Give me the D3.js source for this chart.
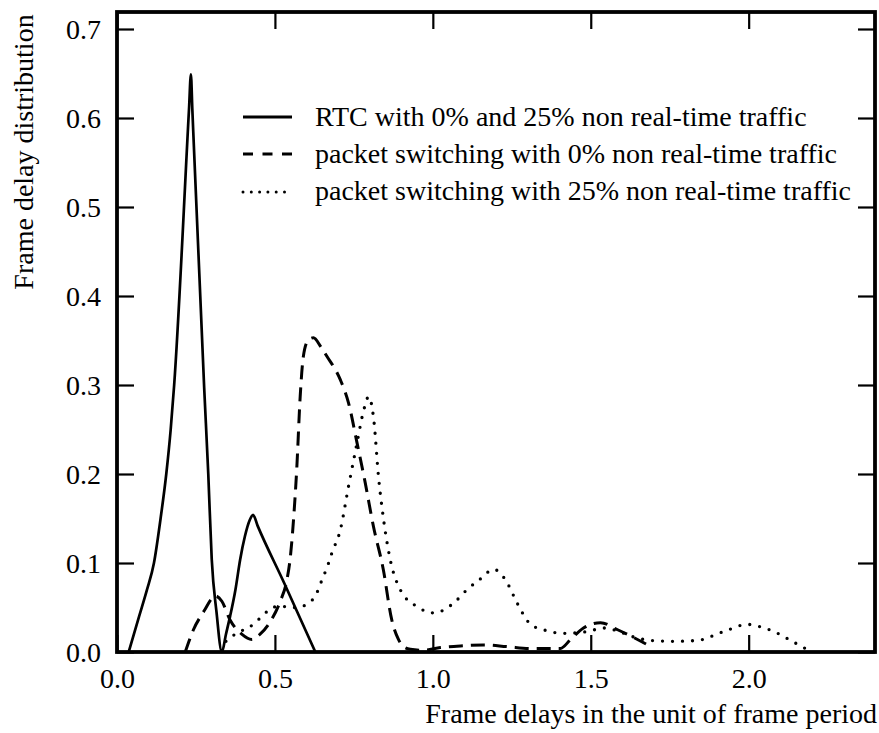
<!DOCTYPE html>
<html>
<head>
<meta charset="utf-8">
<script src="https://cdn.jsdelivr.net/npm/d3@7"></script>
<style>
  html, body { margin: 0; padding: 0; background: #fff; }
  svg { display: block; }
  svg text { font-family: "Liberation Serif", "Times New Roman", "DejaVu Serif", serif !important; fill: #000; }
</style>
</head>
<body>
<svg id="chart" width="879" height="733"></svg>
<script>
// ---- data ----
const xTicks = [0.0, 0.5, 1.0, 1.5, 2.0];
const yTicks = [0.0, 0.1, 0.2, 0.3, 0.4, 0.5, 0.6, 0.7];
const xTitle = "Frame delays in the unit of frame period";
const yTitle = "Frame delay distribution";
const seriesNames = [
  "RTC with 0% and 25% non real-time traffic",
  "packet switching with 0% non real-time traffic",
  "packet switching with 25% non real-time traffic"
];

const rtcX = [0.037, 0.07, 0.095, 0.117, 0.138, 0.156, 0.17, 0.181, 0.228, 0.234, 0.2385, 0.276, 0.289, 0.300, 0.315, 0.332, 0.345, 0.358, 0.375, 0.39, 0.405, 0.42, 0.431, 0.445, 0.53, 0.628];
const rtcY = [0.0, 0.04, 0.07, 0.1, 0.15, 0.2, 0.25, 0.3, 0.61, 0.649, 0.61, 0.297, 0.2, 0.104, 0.045, 0.0, 0.02, 0.04, 0.07, 0.104, 0.13, 0.148, 0.154, 0.142, 0.077, 0.0];

const ps0X = [0.216, 0.242, 0.279, 0.30, 0.311, 0.332, 0.358, 0.395, 0.427, 0.453, 0.485, 0.517, 0.538, 0.548, 0.559, 0.569, 0.58, 0.59, 0.605, 0.622, 0.645, 0.665, 0.707, 0.733, 0.76, 0.786, 0.812, 0.843, 0.87, 0.89, 0.907, 0.929, 0.97, 1.024, 1.097, 1.16, 1.236, 1.31, 1.404, 1.436, 1.477, 1.531, 1.585, 1.675];
const ps0Y = [0.0, 0.025, 0.048, 0.06, 0.063, 0.057, 0.036, 0.02, 0.014, 0.02, 0.034, 0.057, 0.081, 0.104, 0.149, 0.205, 0.287, 0.332, 0.35, 0.353, 0.343, 0.332, 0.306, 0.28, 0.235, 0.19, 0.141, 0.093, 0.036, 0.015, 0.006, 0.003, 0.002, 0.005, 0.007, 0.008, 0.006, 0.004, 0.004, 0.014, 0.027, 0.033, 0.025, 0.009];

const ps25X = [0.345, 0.374, 0.395, 0.416, 0.437, 0.459, 0.48, 0.506, 0.538, 0.564, 0.585, 0.606, 0.628, 0.649, 0.67, 0.68, 0.707, 0.733, 0.76, 0.78, 0.797, 0.813, 0.828, 0.844, 0.865, 0.897, 0.95, 1.003, 1.066, 1.108, 1.15, 1.193, 1.215, 1.235, 1.267, 1.31, 1.36, 1.414, 1.489, 1.541, 1.59, 1.626, 1.69, 1.76, 1.837, 1.921, 1.996, 2.04, 2.08, 2.143, 2.2];
const ps25Y = [0.012, 0.02, 0.024, 0.027, 0.033, 0.04, 0.047, 0.051, 0.051, 0.05, 0.051, 0.055, 0.063, 0.081, 0.1, 0.111, 0.137, 0.186, 0.235, 0.27, 0.287, 0.261, 0.197, 0.149, 0.104, 0.07, 0.051, 0.044, 0.055, 0.07, 0.082, 0.093, 0.088, 0.078, 0.055, 0.031, 0.024, 0.021, 0.023, 0.027, 0.023, 0.018, 0.013, 0.012, 0.013, 0.023, 0.031, 0.028, 0.023, 0.011, 0.0];

// ---- layout ----
const FONT = '"Liberation Serif", "Times New Roman", serif';
const svg = d3.select("#chart");
const mLeft = 117, mRight = 875, mTop = 12, mBottom = 652;
const x = d3.scaleLinear().domain([0, 2.4]).range([mLeft, mRight]);
const y = d3.scaleLinear().domain([0, 0.7]).range([mBottom, 29]);
const fmt = d3.format(".1f");
const tickLen = 17;

const series = [
  { name: seriesNames[0], xs: rtcX, ys: rtcY, width: 2.7, dash: null, cap: "butt", legDash: null },
  { name: seriesNames[1], xs: ps0X, ys: ps0Y, width: 3, dash: "14,8", cap: "butt", legDash: "10,9.5" },
  { name: seriesNames[2], xs: ps25X, ys: ps25Y, width: 3.3, dash: "0,10", cap: "round", legDash: "0,8.3" }
];

const line = d3.line().x(d => x(d[0])).y(d => y(d[1])).curve(d3.curveMonotoneX);

const plot = svg.append("g");
series.forEach(s => {
  const pts = s.xs.map((v, i) => [v, s.ys[i]]);
  plot.append("path")
    .attr("d", line(pts))
    .attr("fill", "none")
    .attr("stroke", "#000")
    .attr("stroke-width", s.width)
    .attr("stroke-linecap", s.cap)
    .attr("stroke-linejoin", "round")
    .attr("stroke-dasharray", s.dash);
});

// ---- axes (ticks inward on all sides) ----
const axB = d3.axisBottom(x).tickValues(xTicks).tickSizeInner(-tickLen).tickSizeOuter(0).tickFormat(fmt).tickPadding(0);
const axT = d3.axisTop(x).tickValues(xTicks).tickSizeInner(-tickLen).tickSizeOuter(0).tickFormat("");
const axL = d3.axisLeft(y).tickValues(yTicks).tickSizeInner(-tickLen).tickSizeOuter(0).tickFormat(fmt);
const axR = d3.axisRight(y).tickValues(yTicks).tickSizeInner(-tickLen).tickSizeOuter(0).tickFormat("");

function styleAxis(g) {
  g.attr("font-family", FONT).attr("font-size", 28);
  g.select(".domain").remove();
  g.selectAll(".tick line").attr("stroke", "#000").attr("stroke-width", 2.2);
  g.selectAll(".tick text").attr("font-family", FONT).style("font-size", "28px").attr("fill", "#000");
}

const gB = svg.append("g").attr("transform", `translate(0,${mBottom})`).call(axB).call(styleAxis);
gB.selectAll(".tick text").attr("y", 36).attr("dy", null);
const gT = svg.append("g").attr("transform", `translate(0,${mTop})`).call(axT).call(styleAxis);
const gL = svg.append("g").attr("transform", `translate(${mLeft},0)`).call(axL).call(styleAxis);
gL.selectAll(".tick text").attr("x", -16).attr("dy", "0.34em");
const gR = svg.append("g").attr("transform", `translate(${mRight},0)`).call(axR).call(styleAxis);

// frame
svg.append("rect")
  .attr("x", mLeft).attr("y", mTop)
  .attr("width", mRight - mLeft).attr("height", mBottom - mTop)
  .attr("fill", "none").attr("stroke", "#000").attr("stroke-width", 3.8);

// titles
svg.append("text")
  .attr("x", 877).attr("y", 723)
  .attr("text-anchor", "end")
  .attr("font-family", FONT)
  .style("font-size", "28px")
  .text(xTitle);

svg.append("text")
  .attr("transform", "translate(33,152) rotate(-90)")
  .attr("text-anchor", "middle")
  .attr("font-family", FONT)
  .style("font-size", "28px")
  .text(yTitle);

// legend
const legX0 = 243, legX1 = 292, legTextX = 315;
const legLineY = [117, 154, 192];
const legTextY = [126, 163, 200];
series.forEach((s, i) => {
  svg.append("line")
    .attr("x1", legX0).attr("x2", legX1)
    .attr("y1", legLineY[i]).attr("y2", legLineY[i])
    .attr("stroke", "#000")
    .attr("stroke-width", i === 2 ? 3 : 2.8)
    .attr("stroke-linecap", s.cap)
    .attr("stroke-dasharray", s.legDash);
  svg.append("text")
    .attr("x", legTextX).attr("y", legTextY[i])
    .attr("font-family", FONT)
    .style("font-size", "28px")
    .text(s.name);
});
</script>
</body>
</html>
